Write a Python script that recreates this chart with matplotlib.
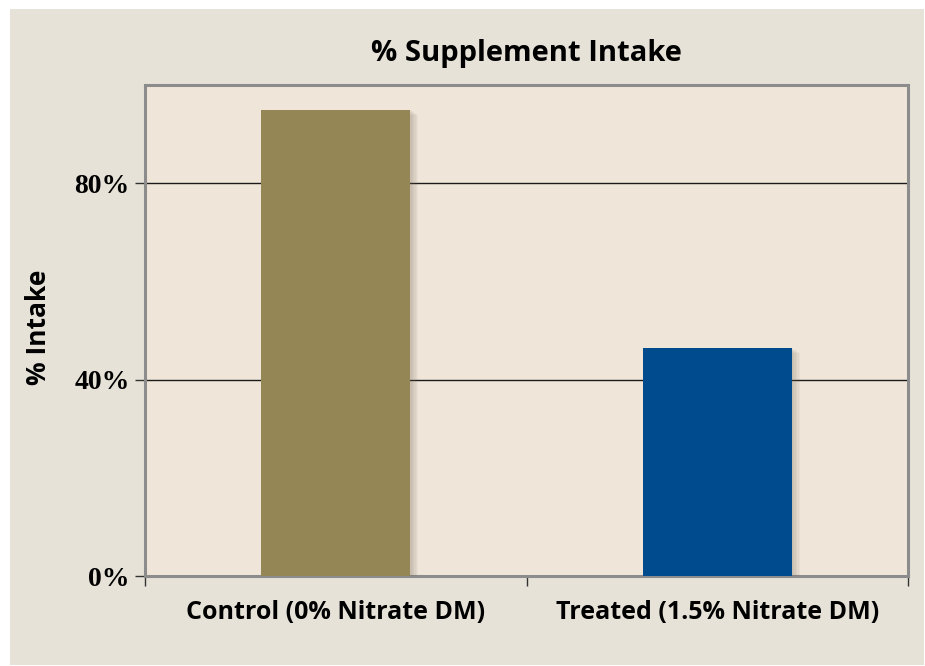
import matplotlib
matplotlib.use("Agg")
import matplotlib.pyplot as plt
import matplotlib.patheffects as pe
from matplotlib.patches import Rectangle
from matplotlib.ticker import FixedLocator, NullFormatter

categories = ["Control (0% Nitrate DM)", "Treated (1.5% Nitrate DM)"]
values = [95.0, 46.5]
colors = ["#948755", "#004a8e"]
yticks = [0, 40, 80]
ytick_labels = ["0%", "40%", "80%"]
title = "% Supplement Intake"
ylabel = "% Intake"

W, H = 925, 666
fig = plt.figure(figsize=(W / 100, H / 100), dpi=100)
fig.patch.set_facecolor("white")
fig.patches.append(Rectangle((10 / W, 1 / H), (914 / W), (656 / H),
                             transform=fig.transFigure, facecolor="#e6e2d8",
                             edgecolor="none", zorder=-10))

left, right, top, bottom = 145, 908, 85, 576
ax = fig.add_axes([left / W, 1 - bottom / H, (right - left) / W, (bottom - top) / H])
ax.set_facecolor("#efe6d9")

x = [0, 1]
bars = ax.bar(x, values, width=0.39, color=colors, zorder=3)
shadow = []
for k in range(1, 7):
    shadow.append(pe.SimplePatchShadow(offset=(k, -k * 0.6), shadow_rgbFace="#7a6e5a", alpha=0.06))
for b in bars:
    b.set_path_effects(shadow + [pe.Normal()])

ax.set_xlim(-0.5, 1.5)
ax.set_ylim(0, 100)
ax.set_yticks(yticks)
ax.set_yticklabels(ytick_labels, fontfamily="Liberation Serif", fontweight="bold", fontsize=20)
ax.yaxis.grid(True, color="#1a1a1a", linewidth=1.0, zorder=1)
ax.set_axisbelow(True)
ax.tick_params(axis="y", length=7, width=1, color="#333333", pad=4)

ax.set_xticks(x)
ax.set_xticklabels(categories, fontfamily="Open Sans", fontweight="bold", fontsize=18)
ax.tick_params(axis="x", which="major", length=0, pad=17)
ax.xaxis.set_minor_locator(FixedLocator([-0.5, 0.5, 1.5]))
ax.xaxis.set_minor_formatter(NullFormatter())
ax.tick_params(axis="x", which="minor", length=7, width=1, color="#333333")

for s in ax.spines.values():
    s.set_color("#8c8c8c")
    s.set_linewidth(2.2)

ax.set_title(title, fontfamily="Open Sans", fontweight="bold", fontsize=21, pad=17)
ax.set_ylabel(ylabel, fontfamily="Open Sans", fontweight="bold", fontsize=19)
ax.yaxis.set_label_coords(-0.122, 0.507)

fig.savefig("out.png", dpi=100, facecolor=fig.get_facecolor())
